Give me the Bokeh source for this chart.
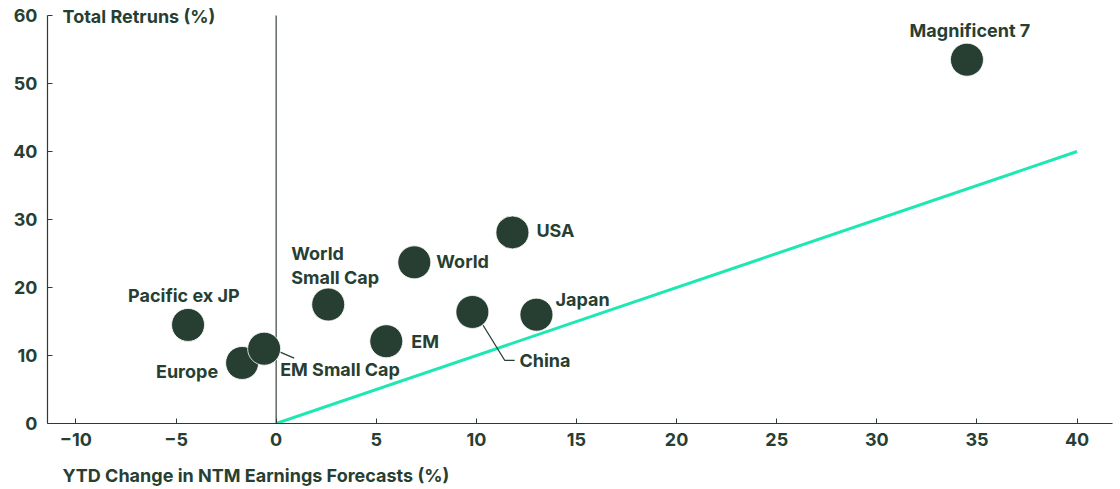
from bokeh.plotting import figure
from bokeh.models import Range1d, Label, ColumnDataSource, FixedTicker, Title
from bokeh.core.properties import value
from bokeh.embed import file_html
from bokeh.resources import INLINE

# ---- data ----
names = ["Magnificent 7", "USA", "World", "China", "Japan", "EM",
         "World\nSmall Cap", "Pacific ex JP", "Europe", "EM Small Cap"]
eps_change = [34.5, 11.8, 6.9, 9.8, 13.0, 5.5, 2.6, -4.4, -1.7, -0.6]
total_return = [53.5, 28.1, 23.7, 16.4, 16.0, 12.1, 17.5, 14.5, 8.9, 11.0]
ref_x = [0, 40]
ref_y = [0, 40]
x_ticks = [-10, -5, 0, 5, 10, 15, 20, 25, 30, 35, 40]
y_ticks = [0, 10, 20, 30, 40, 50, 60]

# ---- style ----
DARK = "#273f33"
TEAL = "#1de8b1"
FONT = "Inter"
X0, X1 = -11.42, 41.77
Y0, Y1 = 0, 60
FW = 1065
PX = FW / (X1 - X0)   # px per x unit
PY = 408 / (Y1 - Y0)  # px per y unit
TOP_PAD = 10          # extra px of frame above the 60 line
FH = 408 + TOP_PAD

# label offsets in screen px (dx right, dy down) and alignment
lab_dx = [3, 24, 22, 47, 19, 25, -37, -60, -24, 16]
lab_dy = [-29, -2, -1, 49, -15, 0, -39, -29, 9, 21]
lab_align = ["center", "left", "left", "left", "left", "left", "left", "left", "right", "left"]

p = figure(frame_width=FW, frame_height=FH, output_backend="svg", toolbar_location=None,
           x_range=Range1d(X0, X1), y_range=Range1d(Y0, Y1 + TOP_PAD / PY),
           min_border_left=47, min_border_right=8, min_border_top=5, min_border_bottom=0)
p.outline_line_color = None
p.grid.grid_line_color = None
p.background_fill_color = "white"

for ax in (p.xaxis[0], p.yaxis[0]):
    ax.axis_line_color = DARK
    ax.axis_line_width = 1.2
    ax.major_tick_line_color = DARK
    ax.major_tick_in = 5
    ax.major_tick_out = 0
    ax.minor_tick_line_color = None
    ax.major_label_text_font = FONT
    ax.major_label_text_font_style = "bold"
    ax.major_label_text_font_size = "18px"
    ax.major_label_text_color = DARK
p.xaxis.ticker = FixedTicker(ticks=x_ticks)
p.yaxis.ticker = FixedTicker(ticks=y_ticks)
p.yaxis.bounds = (Y0, Y1)
p.xaxis.major_label_standoff = 9
p.yaxis.major_label_standoff = 10

# zero line
p.segment(x0=[0], y0=[Y0], x1=[0], y1=[Y1], line_color="#3b4640", line_width=1.2)
# reference line
p.line(ref_x, ref_y, line_color=TEAL, line_width=3)

# leader lines (computed from point position + pixel offsets)
i_em = names.index("EM Small Cap")
i_cn = names.index("China")
ex, ey = eps_change[i_em], total_return[i_em]
cx, cy = eps_change[i_cn], total_return[i_cn]
p.line([ex + 16 / PX, ex + 30 / PX], [ey - 3.4 / PY, ey - 9.4 / PY], line_color=DARK, line_width=1.3)
p.line([cx + 10.7 / PX, cx + 32.3 / PX, cx + 42.3 / PX],
       [cy - 13.3 / PY, cy - 48.3 / PY, cy - 48.3 / PY], line_color=DARK, line_width=1.3)

src = ColumnDataSource(dict(x=eps_change, y=total_return, name=names,
                            dx=lab_dx, dy=lab_dy, align=lab_align))
p.scatter("x", "y", source=src, size=33, fill_color=DARK, line_color="white", line_width=0.8)
p.text("x", "y", text="name", source=src, x_offset="dx", y_offset="dy",
       text_align="align", text_baseline="middle", text_font=value(FONT),
       text_font_style="bold", text_font_size="18px", text_color=DARK, text_line_height=1.1)

p.add_layout(Label(x=-10.67, y=59.85, text="Total Retruns (%)", text_font=FONT,
                   text_font_style="bold", text_font_size="18px", text_color=DARK,
                   text_baseline="middle", text_align="left"))
p.add_layout(Title(text="YTD Change in NTM Earnings Forecasts (%)", align="left", offset=15,
                   text_font=FONT, text_font_style="bold", text_font_size="18px",
                   text_color=DARK, standoff=29), "below")

open("out.html", "w").write(file_html(p, INLINE))
